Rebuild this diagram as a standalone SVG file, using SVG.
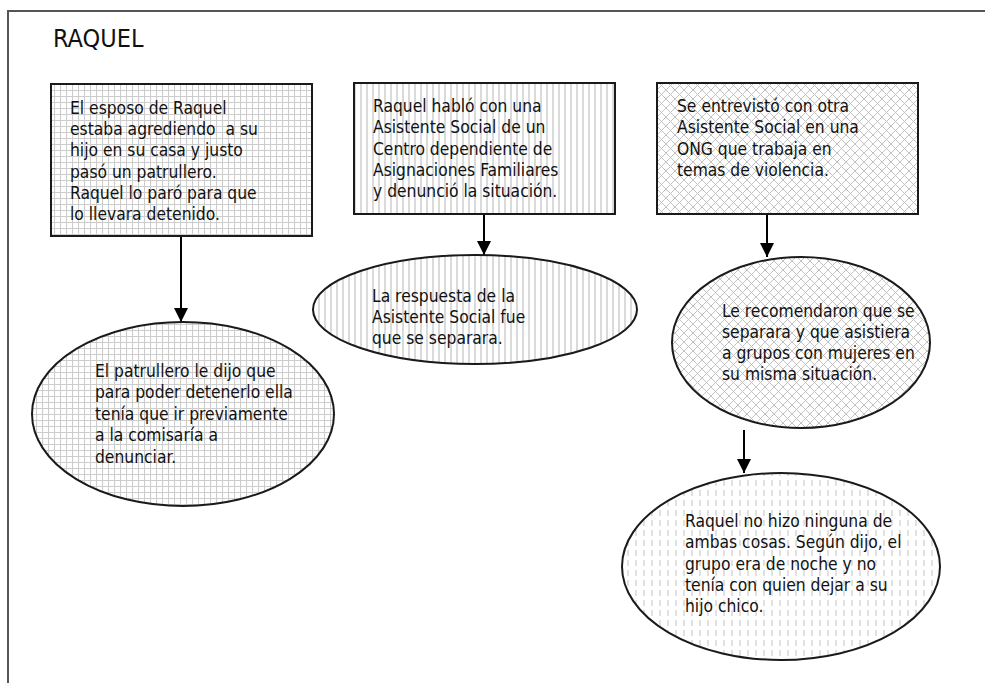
<svg xmlns="http://www.w3.org/2000/svg" width="985" height="683" viewBox="0 0 985 683">
<style>
.t{font-family:"DejaVu Sans Condensed","DejaVu Sans","Liberation Sans",sans-serif;font-stretch:condensed;font-size:17.3px;fill:#111;white-space:pre}
.title{font-family:"DejaVu Sans Condensed","DejaVu Sans","Liberation Sans",sans-serif;font-stretch:condensed;font-size:25px;fill:#111}
.shape{stroke:#1a1a1a;stroke-width:2}
.conn{stroke:#000;stroke-width:2;fill:none}
</style>
<defs>
<pattern id="grid" width="6" height="6" patternUnits="userSpaceOnUse">
<rect width="6" height="6" fill="#fff"/>
<path d="M0.5 0V6M0 0.5H6" stroke="#cdcdcd" stroke-width="1.1"/>
</pattern>
<pattern id="vert" width="6" height="6" patternUnits="userSpaceOnUse">
<rect width="6" height="6" fill="#fff"/>
<path d="M1 0V6" stroke="#c2c2c2" stroke-width="1.2"/>
</pattern>
<pattern id="diam" width="9" height="9" patternUnits="userSpaceOnUse">
<rect width="9" height="9" fill="#fff"/>
<path d="M0 0L9 9M9 0L0 9" stroke="#bcbcbc" stroke-width="0.9"/>
</pattern>
<pattern id="dash" width="8" height="10" patternUnits="userSpaceOnUse">
<rect width="8" height="10" fill="#fff"/>
<path d="M4 0V6" stroke="#c8c8c8" stroke-width="1.1"/>
</pattern>
<marker id="ah" viewBox="0 0 10 10" refX="10" refY="5" markerWidth="7" markerHeight="7" markerUnits="strokeWidth" orient="auto">
<path d="M0 0L10 5L0 10Z" fill="#000"/>
</marker>
</defs>
<rect width="985" height="683" fill="#fff"/>
<path d="M8 683V11H985" fill="none" stroke="#555" stroke-width="2"/>
<text class="title" x="53" y="47">RAQUEL</text>

<g id="connectors">
<line class="conn" x1="181" y1="236" x2="181" y2="322" marker-end="url(#ah)"/>
<line class="conn" x1="484" y1="214" x2="484" y2="255" marker-end="url(#ah)"/>
<line class="conn" x1="767" y1="214" x2="767" y2="257" marker-end="url(#ah)"/>
<line class="conn" x1="744" y1="430" x2="744" y2="473" marker-end="url(#ah)"/>
</g>

<g id="box1">
<rect class="shape" x="51" y="84" width="261" height="152" fill="url(#grid)"/>
<text class="t"><tspan x="70" y="114">El esposo de Raquel</tspan><tspan x="70" y="135">estaba agrediendo  a su</tspan><tspan x="70" y="156">hijo en su casa y justo</tspan><tspan x="70" y="178">pasó un patrullero.</tspan><tspan x="70" y="199">Raquel lo paró para que</tspan><tspan x="70" y="220">lo llevara detenido.</tspan></text>
</g>

<g id="box2">
<rect class="shape" x="354" y="83" width="261" height="131" fill="url(#vert)"/>
<text class="t"><tspan x="373" y="112">Raquel habló con una</tspan><tspan x="373" y="133">Asistente Social de un</tspan><tspan x="373" y="155">Centro dependiente de</tspan><tspan x="373" y="176">Asignaciones Familiares</tspan><tspan x="373" y="197">y denunció la situación.</tspan></text>
</g>

<g id="box3">
<rect class="shape" x="657" y="83" width="261" height="131" fill="url(#diam)"/>
<text class="t"><tspan x="677" y="112">Se entrevistó con otra</tspan><tspan x="677" y="133">Asistente Social en una</tspan><tspan x="677" y="155">ONG que trabaja en</tspan><tspan x="677" y="176">temas de violencia.</tspan></text>
</g>

<g id="ellipse1">
<ellipse class="shape" cx="183" cy="414" rx="151" ry="92" fill="url(#grid)"/>
<text class="t"><tspan x="95" y="377">El patrullero le dijo que</tspan><tspan x="95" y="398">para poder detenerlo ella</tspan><tspan x="95" y="420">tenía que ir previamente</tspan><tspan x="95" y="441">a la comisaría a</tspan><tspan x="95" y="463">denunciar.</tspan></text>
</g>

<g id="ellipse2">
<ellipse class="shape" cx="475" cy="309.5" rx="162" ry="54.5" fill="url(#vert)"/>
<text class="t"><tspan x="372" y="302">La respuesta de la</tspan><tspan x="372" y="323">Asistente Social fue</tspan><tspan x="372" y="344">que se separara.</tspan></text>
</g>

<g id="ellipse3">
<ellipse class="shape" cx="801" cy="342.5" rx="129" ry="85.5" fill="url(#diam)"/>
<text class="t"><tspan x="722" y="317">Le recomendaron que se</tspan><tspan x="722" y="338">separara y que asistiera</tspan><tspan x="722" y="359">a grupos con mujeres en</tspan><tspan x="722" y="380">su misma situación.</tspan></text>
</g>

<g id="ellipse4">
<ellipse class="shape" cx="781" cy="566.5" rx="159" ry="93.5" fill="url(#dash)"/>
<text class="t"><tspan x="685" y="527">Raquel no hizo ninguna de</tspan><tspan x="685" y="548">ambas cosas. Según dijo, el</tspan><tspan x="685" y="570">grupo era de noche y no</tspan><tspan x="685" y="591">tenía con quien dejar a su</tspan><tspan x="685" y="612">hijo chico.</tspan></text>
</g>
</svg>
